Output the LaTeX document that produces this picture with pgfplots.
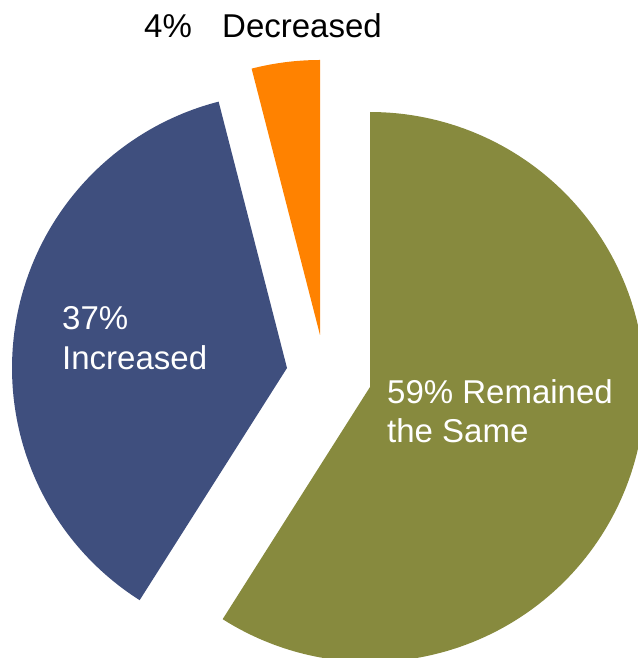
\documentclass[border=0pt]{standalone}
\usepackage{pgfplots}
\pgfplotsset{compat=1.18}
\usepackage{fontspec}
\setmainfont{Liberation Sans}
\definecolor{cGreen}{HTML}{878A3E}
\definecolor{cBlue}{HTML}{3F4F7E}
\definecolor{cOrange}{HTML}{FF8200}
% shares (percent) and exploded-slice centres (pixel-based axis units)
\def\pGreen{59}\def\pOrange{4}\def\pBlue{37}
\def\R{275}
\pgfmathsetmacro{\gA}{90-3.6*\pGreen}
\pgfmathsetmacro{\gB}{90}
\pgfmathsetmacro{\oA}{90}
\pgfmathsetmacro{\oB}{90+3.6*\pOrange}
\pgfmathsetmacro{\bA}{\oB}
\pgfmathsetmacro{\bB}{\oB+3.6*\pBlue}
\begin{document}
\begin{tikzpicture}
\begin{axis}[
  width=638bp, height=658bp, scale only axis,
  xmin=0, xmax=638, ymin=0, ymax=658,
  hide axis, clip=true,
]
\addplot[draw=none, fill=cGreen, domain=\gA:\gB, samples=150]
  ({370+\R*cos(x)}, {271+\R*sin(x)}) -- (370,271) -- cycle;
\addplot[draw=none, fill=cOrange, domain=\oA:\oB, samples=20]
  ({320+\R*cos(x)}, {323+\R*sin(x)}) -- (320,323) -- cycle;
\addplot[draw=none, fill=cBlue, domain=\bA:\bB, samples=120]
  ({287+\R*cos(x)}, {290+\R*sin(x)}) -- (287,290) -- cycle;
\coordinate (ll) at (rel axis cs:0,0);
\coordinate (ur) at (rel axis cs:1,1);
\begin{scope}[every node/.style={font=\fontsize{33bp}{40bp}\selectfont, inner sep=0pt}]
\node[anchor=base west, text=black] at (axis cs:144,620) {4\%};
\node[anchor=base west, text=black] at (axis cs:222,620) {Decreased};
\node[anchor=base west, text=white] at (axis cs:62,328) {37\%};
\node[anchor=base west, text=white] at (axis cs:62,288) {Increased};
\node[anchor=base west, text=white] at (axis cs:387,254) {59\% Remained};
\node[anchor=base west, text=white] at (axis cs:387,215) {the Same};
\end{scope}
\end{axis}
\pgfresetboundingbox
\path[use as bounding box] (ll) rectangle (ur);
\end{tikzpicture}
\end{document}
